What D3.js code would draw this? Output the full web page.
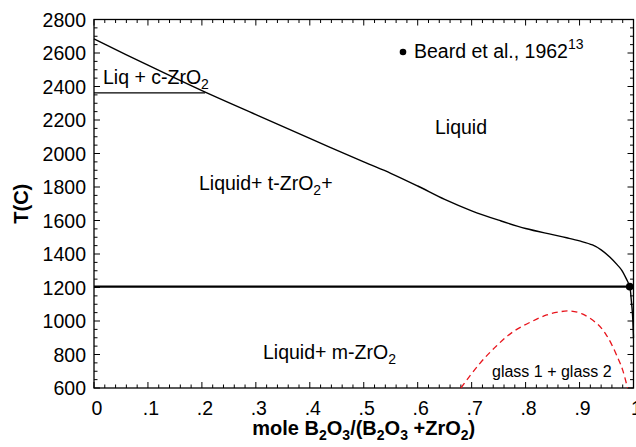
<!DOCTYPE html>
<html>
<head>
<meta charset="utf-8">
<script src="https://cdn.jsdelivr.net/npm/d3@7"></script>
<style>
  body { margin: 0; background: #fff; }
  text { font-family: "Liberation Sans", Arial, Helvetica, sans-serif; fill: #000; }
</style>
</head>
<body>
<div id="chart"></div>
<script>
// liquidus curve (mole fraction B2O3, T in C)
const liquidusX = [0, 0.1, 0.2, 0.3, 0.4, 0.5, 0.55, 0.6, 0.65, 0.7, 0.75, 0.8, 0.85, 0.876, 0.9, 0.924, 0.94, 0.956, 0.97, 0.978, 0.987, 0.993, 0.996, 0.998, 1.0];
const liquidusT = [2684, 2527, 2375, 2232, 2090, 1950, 1882, 1806, 1726, 1658, 1602, 1552, 1516, 1497, 1478, 1454, 1425, 1382, 1335, 1304, 1250, 1205, 1120, 1048, 900];

// metastable miscibility gap (red dashed)
const gapX = [0.68, 0.715, 0.745, 0.776, 0.81, 0.839, 0.862, 0.881, 0.905, 0.931, 0.948, 0.961, 0.972, 0.98, 0.989];
const gapT = [600, 746, 848, 934, 995, 1036, 1054, 1060, 1042, 988, 925, 850, 772, 707, 600];

// invariant lines
const eutecticT = 1205, eutecticEnd = 0.993;
const cubicT = 2362, cubicEnd = 0.206;

// Beard et al. 1962 data point
const beardX = [0.993];
const beardT = [1205];

const xTicks = [0, 0.1, 0.2, 0.3, 0.4, 0.5, 0.6, 0.7, 0.8, 0.9, 1];
const xTickLabels = ["0", ".1", ".2", ".3", ".4", ".5", ".6", ".7", ".8", ".9", "1"];
const yTicks = [600, 800, 1000, 1200, 1400, 1600, 1800, 2000, 2200, 2400, 2600, 2800];

const W = 636, H = 447;
const margin = { top: 19.5, right: 2.5, bottom: 59, left: 94 };
const width = W - margin.left - margin.right;
const height = H - margin.top - margin.bottom;

const svg = d3.select("#chart").append("svg")
  .attr("width", W).attr("height", H)
  .append("g")
  .attr("transform", `translate(${margin.left},${margin.top})`);

const x = d3.scaleLinear().domain([0, 1]).range([0, width]);
const y = d3.scaleLinear().domain([600, 2800]).range([height, 0]);

// minor ticks
const xMinor = d3.range(0, 1.0001, 0.02).filter(v => Math.abs(v * 10 - Math.round(v * 10)) > 1e-6);
const yMinor = d3.range(600, 2801, 50).filter(v => v % 200 !== 0);

const tickG = svg.append("g").attr("stroke", "#000").attr("stroke-width", 1);
// bottom & top
[[xTicks, 6], [xMinor, 3.5]].forEach(([vals, len]) => {
  tickG.selectAll(null).data(vals).join("line")
    .attr("x1", d => x(d)).attr("x2", d => x(d))
    .attr("y1", height).attr("y2", height - len);
  tickG.selectAll(null).data(vals).join("line")
    .attr("x1", d => x(d)).attr("x2", d => x(d))
    .attr("y1", 0).attr("y2", len);
});
// left & right
[[yTicks, 6], [yMinor, 3.5]].forEach(([vals, len]) => {
  tickG.selectAll(null).data(vals).join("line")
    .attr("y1", d => y(d)).attr("y2", d => y(d))
    .attr("x1", 0).attr("x2", len);
  tickG.selectAll(null).data(vals).join("line")
    .attr("y1", d => y(d)).attr("y2", d => y(d))
    .attr("x1", width).attr("x2", width - len);
});

// frame
svg.append("rect")
  .attr("width", width).attr("height", height)
  .attr("fill", "none").attr("stroke", "#000").attr("stroke-width", 1.3);

// tick labels
svg.append("g").selectAll("text").data(xTicks).join("text")
  .attr("x", d => x(d) + 3)
  .attr("y", height + 27)
  .attr("text-anchor", "middle")
  .attr("font-size", "19.5px")
  .text((d, i) => xTickLabels[i]);

svg.append("g").selectAll("text").data(yTicks).join("text")
  .attr("x", -8)
  .attr("y", d => y(d))
  .attr("dy", "0.36em")
  .attr("text-anchor", "end")
  .attr("font-size", "19.5px")
  .text(d => d);

// axis titles
svg.append("text")
  .attr("transform", `translate(-66,${height / 2}) rotate(-90)`)
  .attr("text-anchor", "middle")
  .attr("font-size", "20px")
  .attr("font-weight", "bold")
  .text("T(C)");

const xt = svg.append("text")
  .attr("x", width / 2)
  .attr("y", height + 47)
  .attr("text-anchor", "middle")
  .attr("font-size", "20px")
  .attr("font-weight", "bold");
const sub = (parent, s) => parent.append("tspan").attr("font-size", "14px").attr("dy", 5).text(s);
const norm = (parent, s) => parent.append("tspan").attr("dy", -5).text(s);
xt.append("tspan").text("mole B");
sub(xt, "2"); norm(xt, "O"); sub(xt, "3"); norm(xt, "/(B"); sub(xt, "2"); norm(xt, "O"); sub(xt, "3");
norm(xt, " +ZrO"); sub(xt, "2"); norm(xt, ")");

// invariant lines
svg.append("line")
  .attr("x1", x(0)).attr("x2", x(cubicEnd))
  .attr("y1", y(cubicT)).attr("y2", y(cubicT))
  .attr("stroke", "#000").attr("stroke-width", 1.2);

svg.append("line")
  .attr("x1", x(0)).attr("x2", x(eutecticEnd))
  .attr("y1", y(eutecticT)).attr("y2", y(eutecticT))
  .attr("stroke", "#000").attr("stroke-width", 2.3);

// liquidus
const line = d3.line().x(d => x(d[0])).y(d => y(d[1])).curve(d3.curveCatmullRom.alpha(0.5));
svg.append("path")
  .datum(liquidusX.map((v, i) => [v, liquidusT[i]]))
  .attr("fill", "none").attr("stroke", "#000").attr("stroke-width", 1.4)
  .attr("d", line);

// miscibility gap
svg.append("path")
  .datum(gapX.map((v, i) => [v, gapT[i]]))
  .attr("fill", "none").attr("stroke", "#e8141c").attr("stroke-width", 1.3)
  .attr("stroke-dasharray", "6,4")
  .attr("d", d3.line().x(d => x(d[0])).y(d => y(d[1])).curve(d3.curveNatural));

// data point
svg.selectAll(".pt").data(beardX).join("circle")
  .attr("class", "pt")
  .attr("cx", d => x(d)).attr("cy", (d, i) => y(beardT[i]))
  .attr("r", 3.8).attr("fill", "#000");

// legend
svg.append("circle").attr("cx", 309).attr("cy", 32.5).attr("r", 3.3).attr("fill", "#000");
const lg = svg.append("text").attr("x", 320).attr("y", 38).attr("font-size", "19.5px");
lg.append("tspan").text("Beard et al., 1962");
lg.append("tspan").attr("font-size", "14px").attr("dy", -9).text("13");

// phase field labels
const label = (px, py, size, parts) => {
  const t = svg.append("text").attr("x", px).attr("y", py).attr("font-size", size);
  parts.forEach(p => {
    if (p.sub) t.append("tspan").attr("font-size", "14px").attr("dy", 5).text(p.sub);
    else t.append("tspan").attr("dy", p.after ? -5 : 0).text(p.t);
  });
};
label(9, 64, "19.5px", [{ t: "Liq + c-ZrO" }, { sub: "2" }]);
label(341, 114, "19.5px", [{ t: "Liquid" }]);
label(105, 170.5, "19.5px", [{ t: "Liquid+ t-ZrO" }, { sub: "2" }, { t: "+", after: true }]);
label(169, 339, "19.5px", [{ t: "Liquid+ m-ZrO" }, { sub: "2" }]);
label(398, 357, "16px", [{ t: "glass 1 + glass 2" }]);
</script>
</body>
</html>
